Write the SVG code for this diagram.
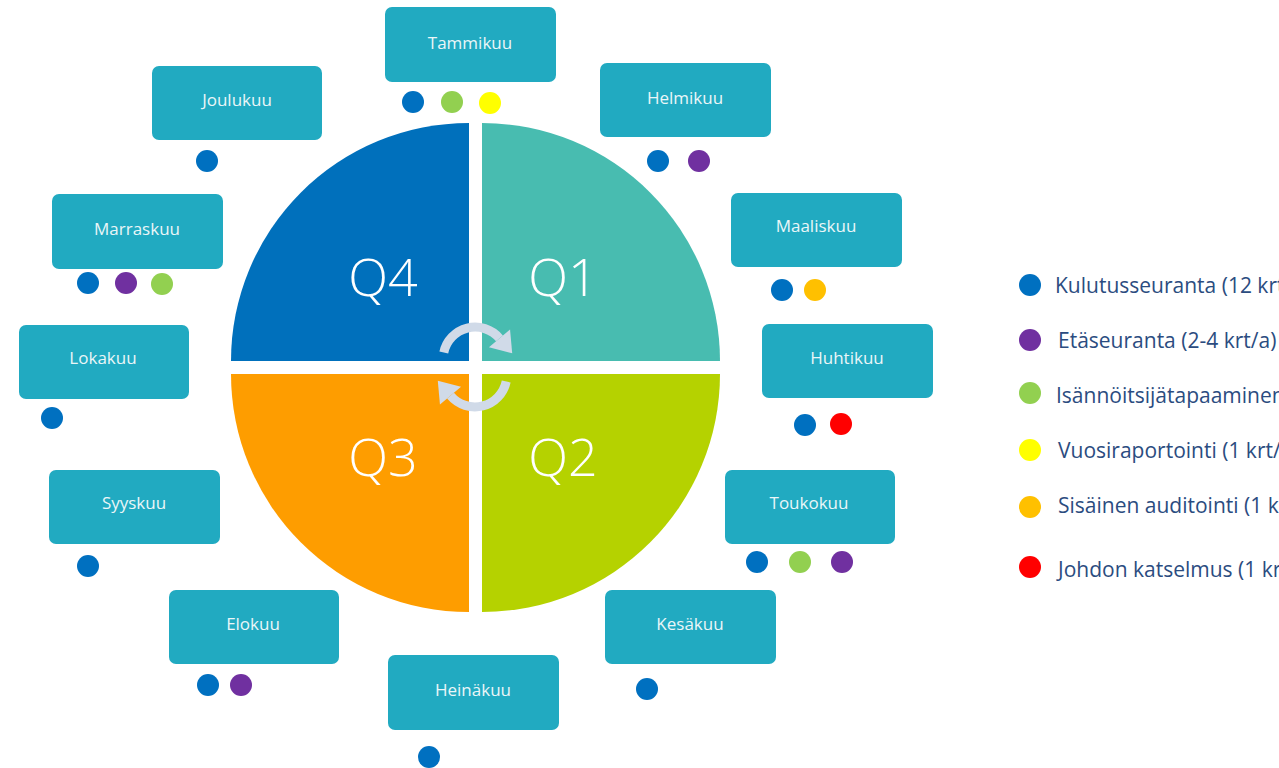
<svg xmlns="http://www.w3.org/2000/svg" width="1279" height="768" viewBox="0 0 1279 768">
<style>
.box{fill:#21aac1}
.bt{font-family:"Open Sans","Liberation Sans",sans-serif;font-size:17px;fill:#eaf6f8;text-anchor:middle}
.q{font-family:"Open Sans","Liberation Sans",sans-serif;font-weight:300;font-size:52px;fill:#ffffff;text-anchor:middle}
.lt{font-family:"Open Sans","Liberation Sans",sans-serif;font-size:21px;fill:#2b4c80}
.b{fill:#0070c0}.p{fill:#7030a0}.g{fill:#92d050}.y{fill:#ffff00}.o{fill:#ffc000}.r{fill:#ff0000}
.arc{fill:none;stroke:#d0dae8;stroke-width:9}
</style>
<defs>
<marker id="ah" markerUnits="userSpaceOnUse" markerWidth="30" markerHeight="30" viewBox="-2 -13 22 26" refX="0" refY="0" orient="auto">
<path d="M0,-12 L17,0 L0,12 Z" fill="#d0dae8"/>
</marker>
</defs>
<rect width="1279" height="768" fill="#ffffff"/>
<g id="wheel">
<g id="q4"><path d="M469,361 L231,361 A238,238 0 0 1 469,123 Z" fill="#0070bc"/><text class="q" x="383" y="296">Q4</text></g>
<g id="q1"><path d="M482,361 L482,123 A238,238 0 0 1 720,361 Z" fill="#48bcb0"/><text class="q" x="563" y="296">Q1</text></g>
<g id="q2"><path d="M482,374 L720,374 A238,238 0 0 1 482,612 Z" fill="#b5d200"/><text class="q" x="563" y="476">Q2</text></g>
<g id="q3"><path d="M469,374 L469,612 A238,238 0 0 1 231,374 Z" fill="#fe9d00"/><text class="q" x="383" y="476">Q3</text></g>
</g>
<g id="connectors">
<path class="arc" d="M443.8,352.5 A32,32 0 0 1 499.5,338.4" marker-end="url(#ah)"/>
<path class="arc" d="M506.2,381.5 A32,32 0 0 1 450.5,395.6" marker-end="url(#ah)"/>
</g>
<g id="tammikuu"><rect class="box" x="385" y="7" width="171" height="75" rx="7"/><text class="bt" x="470" y="49">Tammikuu</text>
<circle class="b" cx="413" cy="102" r="11"/><circle class="g" cx="452" cy="102" r="11"/><circle class="y" cx="490" cy="103" r="11"/></g>
<g id="helmikuu"><rect class="box" x="600" y="63" width="171" height="74" rx="7"/><text class="bt" x="685" y="104">Helmikuu</text>
<circle class="b" cx="658" cy="161" r="11"/><circle class="p" cx="699" cy="161" r="11"/></g>
<g id="maaliskuu"><rect class="box" x="731" y="193" width="171" height="74" rx="7"/><text class="bt" x="816" y="232">Maaliskuu</text>
<circle class="b" cx="782" cy="290" r="11"/><circle class="o" cx="815" cy="290" r="11"/></g>
<g id="huhtikuu"><rect class="box" x="762" y="324" width="171" height="74" rx="7"/><text class="bt" x="847" y="364">Huhtikuu</text>
<circle class="b" cx="805" cy="425" r="11"/><circle class="r" cx="841" cy="424" r="11"/></g>
<g id="toukokuu"><rect class="box" x="725" y="470" width="170" height="74" rx="7"/><text class="bt" x="809" y="509">Toukokuu</text>
<circle class="b" cx="757" cy="562" r="11"/><circle class="g" cx="800" cy="562" r="11"/><circle class="p" cx="842" cy="562" r="11"/></g>
<g id="kesakuu"><rect class="box" x="605" y="590" width="171" height="74" rx="7"/><text class="bt" x="690" y="630">Kesäkuu</text>
<circle class="b" cx="647" cy="689" r="11"/></g>
<g id="heinakuu"><rect class="box" x="388" y="655" width="171" height="75" rx="7"/><text class="bt" x="473" y="696">Heinäkuu</text>
<circle class="b" cx="429" cy="757" r="11"/></g>
<g id="elokuu"><rect class="box" x="169" y="590" width="170" height="74" rx="7"/><text class="bt" x="253" y="630">Elokuu</text>
<circle class="b" cx="208" cy="685" r="11"/><circle class="p" cx="241" cy="685" r="11"/></g>
<g id="syyskuu"><rect class="box" x="49" y="470" width="171" height="74" rx="7"/><text class="bt" x="134" y="509">Syyskuu</text>
<circle class="b" cx="88" cy="566" r="11"/></g>
<g id="lokakuu"><rect class="box" x="19" y="325" width="170" height="74" rx="7"/><text class="bt" x="103" y="364">Lokakuu</text>
<circle class="b" cx="52" cy="418" r="11"/></g>
<g id="marraskuu"><rect class="box" x="52" y="194" width="171" height="75" rx="7"/><text class="bt" x="137" y="235">Marraskuu</text>
<circle class="b" cx="88" cy="283" r="11"/><circle class="p" cx="126" cy="283" r="11"/><circle class="g" cx="162" cy="284" r="11"/></g>
<g id="joulukuu"><rect class="box" x="152" y="66" width="170" height="74" rx="7"/><text class="bt" x="237" y="106">Joulukuu</text>
<circle class="b" cx="207" cy="161" r="11"/></g>
<g id="legend">
<circle class="b" cx="1030" cy="285" r="11"/><text class="lt" x="1055" y="293">Kulutusseuranta (12 krt/a)</text>
<circle class="p" cx="1030" cy="340" r="11"/><text class="lt" x="1058" y="348">Etäseuranta (2-4 krt/a)</text>
<circle class="g" cx="1030" cy="393" r="11"/><text class="lt" x="1056" y="403">Isännöitsijätapaaminen (1 krt/a)</text>
<circle class="y" cx="1030" cy="450" r="11"/><text class="lt" x="1058" y="458">Vuosiraportointi (1 krt/a)</text>
<circle class="o" cx="1030" cy="507" r="11"/><text class="lt" x="1058" y="513">Sisäinen auditointi (1 krt/a)</text>
<circle class="r" cx="1030" cy="567" r="11"/><text class="lt" x="1058" y="577">Johdon katselmus (1 krt/a)</text>
</g>
</svg>
